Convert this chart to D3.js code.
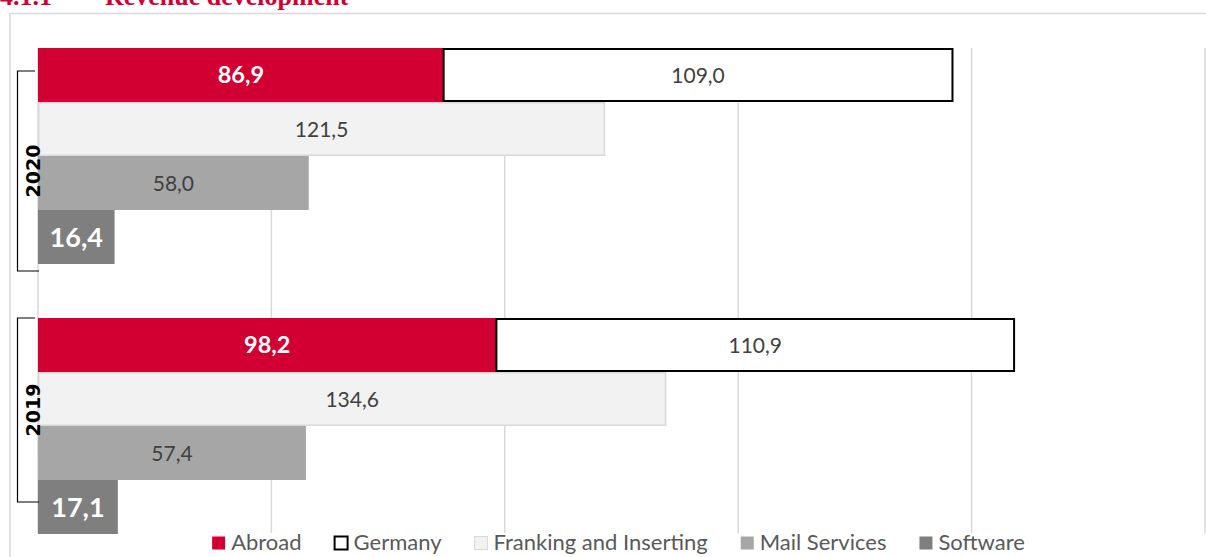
<!DOCTYPE html>
<html>
<head>
<meta charset="utf-8">
<script src="https://cdn.jsdelivr.net/npm/d3@7"></script>
<style>
  body { margin: 0; background: #fff; }
  svg { display: block; }
</style>
</head>
<body>
<div id="chart"></div>
<script>
// data
const years = ["2020", "2019"];
const abroad = [86.9, 98.2];
const germany = [109.0, 110.9];
const franking = [121.5, 134.6];
const mail = [58.0, 57.4];
const software = [16.4, 17.1];
const seriesNames = ["Abroad", "Germany", "Franking and Inserting", "Mail Services", "Software"];
const gridTicks = [0, 50, 100, 150, 200, 250];

const W = 1206, H = 557;
const fmt = d3.formatLocale({ decimal: ",", thousands: ".", grouping: [3], currency: ["", "€"] }).format(".1f");

const colors = {
    "Abroad": "#d20032",
    "Germany": "#ffffff",
    "Franking and Inserting": "#f2f2f2",
    "Mail Services": "#a6a6a6",
    "Software": "#7f7f7f"
};

const svg = d3.select("#chart").append("svg")
    .attr("width", W)
    .attr("height", H);

// title (cut off at the top like the page excerpt)
const title = svg.append("text")
    .attr("y", 5)
    .attr("font-family", "'Liberation Serif', serif")
    .attr("font-weight", "bold")
    .attr("font-size", 26)
    .attr("fill", "#d20032");
title.append("tspan").attr("x", 0).text("4.1.1");
title.append("tspan").attr("x", 105).text("Revenue development");

// chart frame
svg.append("path")
    .attr("d", "M10," + H + "V13.5H" + W)
    .attr("fill", "none")
    .attr("stroke", "#d9d9d9")
    .attr("stroke-width", 1.5);

const x = d3.scaleLinear().domain([0, 250]).range([38, 1205]);
const y0 = d3.scaleBand().domain(years).range([48, 534]).paddingInner(0.2);
const rows = ["stack", "franking", "mail", "software"];
const y1 = d3.scaleBand().domain(rows).range([0, y0.bandwidth()]);

// gridlines
svg.append("g")
    .selectAll("line")
    .data(gridTicks)
    .join("line")
    .attr("x1", d => x(d)).attr("x2", d => x(d))
    .attr("y1", 48).attr("y2", 533)
    .attr("stroke", "#d9d9d9")
    .attr("stroke-width", 1.5);

// build bar records from the arrays
const bars = [];
years.forEach(function (yr, i) {
    bars.push({ year: yr, row: "stack", name: "Abroad", x0: 0, x1: abroad[i], v: abroad[i] });
    bars.push({ year: yr, row: "stack", name: "Germany", x0: abroad[i], x1: abroad[i] + germany[i], v: germany[i] });
    bars.push({ year: yr, row: "franking", name: "Franking and Inserting", x0: 0, x1: franking[i], v: franking[i] });
    bars.push({ year: yr, row: "mail", name: "Mail Services", x0: 0, x1: mail[i], v: mail[i] });
    bars.push({ year: yr, row: "software", name: "Software", x0: 0, x1: software[i], v: software[i] });
});

const strokeOf = { "Germany": "#000", "Franking and Inserting": "#d9d9d9" };
const labelStyle = {
    "Abroad": { fill: "#fff", weight: "bold", size: 23.5 },
    "Germany": { fill: "#404040", weight: "normal", size: 21 },
    "Franking and Inserting": { fill: "#404040", weight: "normal", size: 21 },
    "Mail Services": { fill: "#404040", weight: "normal", size: 21 },
    "Software": { fill: "#fff", weight: "bold", size: 27 }
};

const barG = svg.append("g");
bars.forEach(function (d) {
    const top = y0(d.year) + y1(d.row);
    const h = y1.bandwidth();
    const sw = d.name === "Germany" ? 2 : (strokeOf[d.name] ? 1.5 : 0);
    barG.append("rect")
        .attr("x", x(d.x0) + (d.name === "Germany" ? 0 : sw / 2))
        .attr("y", top + sw / 2)
        .attr("width", x(d.x1) - x(d.x0) - (d.name === "Germany" ? 0 : sw))
        .attr("height", h - sw)
        .attr("fill", colors[d.name])
        .attr("stroke", strokeOf[d.name] || "none")
        .attr("stroke-width", sw);
});

// value labels
const ls = d => labelStyle[d.name];
svg.append("g")
    .selectAll("text")
    .data(bars)
    .join("text")
    .attr("x", d => (x(d.x0) + x(d.x1)) / 2)
    .attr("y", d => y0(d.year) + y1(d.row) + y1.bandwidth() / 2)
    .attr("dy", "0.36em")
    .attr("text-anchor", "middle")
    .attr("font-family", "Lato, 'Open Sans', sans-serif")
    .attr("font-weight", d => ls(d).weight)
    .attr("font-size", d => ls(d).size)
    .attr("fill", d => ls(d).fill)
    .text(d => fmt(d.v));

// year brackets (Excel multi-level category axis)
const bracketInset = { "2020": [23, 7], "2019": [0, -32] };
const catG = svg.append("g");
years.forEach(function (yr) {
    const t = y0(yr) + bracketInset[yr][0];
    const b = y0(yr) + y0.bandwidth() + bracketInset[yr][1];
    catG.append("path")
        .attr("d", "M35," + t + "H17.5V" + b + "H39")
        .attr("fill", "none")
        .attr("stroke", "#000")
        .attr("stroke-width", 1.2);
    catG.append("text")
        .attr("transform", "translate(39.5," + (t + b) / 2 + ") rotate(-90)")
        .attr("text-anchor", "middle")
        .attr("font-family", "'DejaVu Sans', sans-serif")
        .attr("font-weight", "bold")
        .attr("font-size", 19)
        .attr("fill", "#000")
        .text(yr);
});

// legend
const legend = svg.append("g").attr("transform", "translate(0,550)");
const items = legend.selectAll("g")
    .data(seriesNames)
    .join("g");
items.append("rect")
    .attr("y", -13.5)
    .attr("width", 13)
    .attr("height", 13)
    .attr("fill", d => colors[d])
    .attr("stroke", d => d === "Germany" ? "#000" : (d === "Franking and Inserting" ? "#d9d9d9" : "none"))
    .attr("stroke-width", d => d === "Germany" ? 2 : 1);
items.append("text")
    .attr("x", 19)
    .attr("font-family", "Lato, 'Open Sans', sans-serif")
    .attr("font-size", 22)
    .attr("fill", "#595959")
    .text(d => d);

let cx = 0;
const offsets = [];
items.each(function () {
    const w = 19 + d3.select(this).select("text").node().getComputedTextLength();
    offsets.push(cx);
    cx += w + 33;
});
const total = cx - 33;
const startX = 618.5 - total / 2;
items.attr("transform", (d, i) => "translate(" + (startX + offsets[i]) + ",0)");
</script>
</body>
</html>
